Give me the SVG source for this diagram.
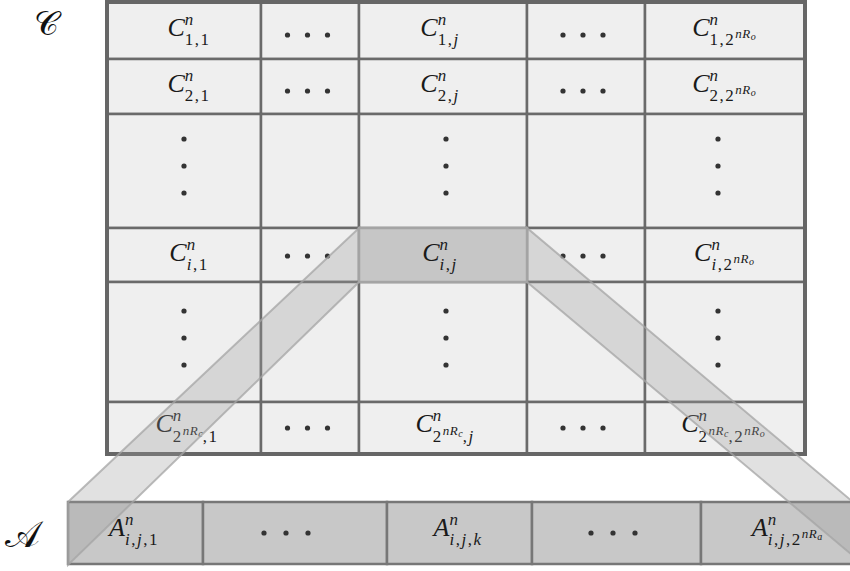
<svg xmlns="http://www.w3.org/2000/svg" width="850" height="571" viewBox="0 0 850 571">
<style>
.c { fill:#efefef; stroke:#6a6a6a; stroke-width:2.5; }
.hl { fill:#c6c6c6; stroke:#a4a4a4; stroke-width:2.5; }
.a { fill:#c8c8c8; stroke:#777; stroke-width:2.5; }
.frame { fill:none; stroke:#666; stroke-width:4; }
.dot { fill:#333; }
.t { font-family:"Liberation Serif","DejaVu Serif",serif; font-size:26px; fill:#1a1a1a; text-anchor:middle; }
.i { font-style:italic; }
.s { font-size:17px; letter-spacing:1.5px; }
.ss { font-size:13px; letter-spacing:0.5px; }
.sss { font-size:10px; }
.lbl { font-family:"DejaVu Serif","DejaVu Sans","Liberation Serif",serif; font-size:34px; fill:#111; }
.band { fill:#9a9a9a; fill-opacity:0.3; stroke:#a4a4a4; stroke-width:2; stroke-opacity:0.75; }
</style>
<defs>
<g id="hd" class="dot"><circle cx="-20" cy="0" r="2.6"/><circle cx="0" cy="0" r="2.6"/><circle cx="20" cy="0" r="2.6"/></g>
<g id="hd2" class="dot"><circle cx="-22" cy="0" r="2.6"/><circle cx="0" cy="0" r="2.6"/><circle cx="22" cy="0" r="2.6"/></g>
<g id="vd" class="dot"><circle cx="0" cy="-27" r="2.6"/><circle cx="0" cy="0" r="2.6"/><circle cx="0" cy="27" r="2.6"/></g>
</defs>
<rect width="850" height="571" fill="#fff"/>

<text class="lbl" x="34" y="35">𝒞</text>
<text class="lbl" x="5" y="547" style="font-size:37px">𝒜</text>

<g id="matrixC">
<!-- row 0 -->
<g id="c11"><rect class="c" x="107" y="2" width="154" height="57"/><text class="t" x="189" y="36"><tspan class="i">C</tspan><tspan class="s i" dy="-11">n</tspan><tspan class="s" dx="-10" dy="20">1,1</tspan></text></g>
<g id="c1d1"><rect class="c" x="261" y="2" width="98" height="57"/><use href="#hd" x="307.5" y="35"/></g>
<g id="c1j"><rect class="c" x="359" y="2" width="168" height="57"/><text class="t" x="440" y="36"><tspan class="i">C</tspan><tspan class="s i" dy="-11">n</tspan><tspan class="s" dx="-10" dy="20">1,</tspan><tspan class="s i">j</tspan></text></g>
<g id="c1d2"><rect class="c" x="527" y="2" width="118" height="57"/><use href="#hd" x="583" y="35"/></g>
<g id="c1N"><rect class="c" x="645" y="2" width="160" height="57"/><text class="t" x="724" y="36"><tspan class="i">C</tspan><tspan class="s i" dy="-11">n</tspan><tspan class="s" dx="-10" dy="20">1,2</tspan><tspan class="ss i" dy="-7">nR</tspan><tspan class="sss i" dy="2">o</tspan></text></g>
<!-- row 1 -->
<g id="c21"><rect class="c" x="107" y="59" width="154" height="55"/><text class="t" x="189" y="92"><tspan class="i">C</tspan><tspan class="s i" dy="-11">n</tspan><tspan class="s" dx="-10" dy="20">2,1</tspan></text></g>
<g id="c2d1"><rect class="c" x="261" y="59" width="98" height="55"/><use href="#hd" x="307.5" y="91"/></g>
<g id="c2j"><rect class="c" x="359" y="59" width="168" height="55"/><text class="t" x="440" y="92"><tspan class="i">C</tspan><tspan class="s i" dy="-11">n</tspan><tspan class="s" dx="-10" dy="20">2,</tspan><tspan class="s i">j</tspan></text></g>
<g id="c2d2"><rect class="c" x="527" y="59" width="118" height="55"/><use href="#hd" x="583" y="91"/></g>
<g id="c2N"><rect class="c" x="645" y="59" width="160" height="55"/><text class="t" x="724" y="92"><tspan class="i">C</tspan><tspan class="s i" dy="-11">n</tspan><tspan class="s" dx="-10" dy="20">2,2</tspan><tspan class="ss i" dy="-7">nR</tspan><tspan class="sss i" dy="2">o</tspan></text></g>
<!-- row 2 -->
<g id="cv1"><rect class="c" x="107" y="114" width="154" height="114"/><use href="#vd" x="184" y="166"/></g>
<g id="cv2"><rect class="c" x="261" y="114" width="98" height="114"/></g>
<g id="cv3"><rect class="c" x="359" y="114" width="168" height="114"/><use href="#vd" x="446" y="166"/></g>
<g id="cv4"><rect class="c" x="527" y="114" width="118" height="114"/></g>
<g id="cv5"><rect class="c" x="645" y="114" width="160" height="114"/><use href="#vd" x="718" y="166"/></g>
<!-- row 3 -->
<g id="ci1"><rect class="c" x="107" y="228" width="154" height="54"/><text class="t" x="189" y="261"><tspan class="i">C</tspan><tspan class="s i" dy="-11">n</tspan><tspan class="s i" dx="-10" dy="20">i</tspan><tspan class="s">,1</tspan></text></g>
<g id="cid1"><rect class="c" x="261" y="228" width="98" height="54"/><use href="#hd" x="307.5" y="256"/></g>
<g id="cid2"><rect class="c" x="527" y="228" width="118" height="54"/><use href="#hd" x="583" y="256"/></g>
<g id="ciN"><rect class="c" x="645" y="228" width="160" height="54"/><text class="t" x="724" y="261"><tspan class="i">C</tspan><tspan class="s i" dy="-11">n</tspan><tspan class="s i" dx="-10" dy="20">i</tspan><tspan class="s">,2</tspan><tspan class="ss i" dy="-7">nR</tspan><tspan class="sss i" dy="2">o</tspan></text></g>
<!-- row 4 -->
<g id="cw1"><rect class="c" x="107" y="282" width="154" height="120"/><use href="#vd" x="184" y="338"/></g>
<g id="cw2"><rect class="c" x="261" y="282" width="98" height="120"/></g>
<g id="cw3"><rect class="c" x="359" y="282" width="168" height="120"/><use href="#vd" x="446" y="338"/></g>
<g id="cw4"><rect class="c" x="527" y="282" width="118" height="120"/></g>
<g id="cw5"><rect class="c" x="645" y="282" width="160" height="120"/><use href="#vd" x="718" y="338"/></g>
<!-- row 5 -->
<g id="cM1"><rect class="c" x="107" y="402" width="154" height="52"/><text class="t" x="187" y="432"><tspan class="i">C</tspan><tspan class="s i" dy="-11">n</tspan><tspan class="s" dx="-10" dy="21">2</tspan><tspan class="ss i" dy="-7">nR</tspan><tspan class="sss i" dy="2">c</tspan><tspan class="s" dy="5">,1</tspan></text></g>
<g id="cMd1"><rect class="c" x="261" y="402" width="98" height="52"/><use href="#hd" x="307.5" y="428"/></g>
<g id="cMj"><rect class="c" x="359" y="402" width="168" height="52"/><text class="t" x="445" y="432"><tspan class="i">C</tspan><tspan class="s i" dy="-11">n</tspan><tspan class="s" dx="-10" dy="21">2</tspan><tspan class="ss i" dy="-7">nR</tspan><tspan class="sss i" dy="2">c</tspan><tspan class="s" dy="5">,</tspan><tspan class="s i">j</tspan></text></g>
<g id="cMd2"><rect class="c" x="527" y="402" width="118" height="52"/><use href="#hd" x="583" y="428"/></g>
<g id="cMN"><rect class="c" x="645" y="402" width="160" height="52"/><text class="t" x="723" y="432"><tspan class="i">C</tspan><tspan class="s i" dy="-11">n</tspan><tspan class="s" dx="-10" dy="21">2</tspan><tspan class="ss i" dy="-7">nR</tspan><tspan class="sss i" dy="2">c</tspan><tspan class="s" dy="5">,2</tspan><tspan class="ss i" dy="-7">nR</tspan><tspan class="sss i" dy="2">o</tspan></text></g>
<!-- highlighted cell -->
<g id="cij"><rect class="hl" x="359" y="228" width="168" height="54"/><text class="t" x="440" y="261"><tspan class="i">C</tspan><tspan class="s i" dy="-11">n</tspan><tspan class="s i" dx="-10" dy="20">i</tspan><tspan class="s">,</tspan><tspan class="s i">j</tspan></text></g>
<rect class="frame" x="107" y="2" width="698" height="452"/>
</g>

<g id="arrayA">
<g id="a1"><rect class="a" x="68" y="502" width="135" height="62"/><text class="t" x="134" y="536"><tspan class="i">A</tspan><tspan class="s i" dy="-11">n</tspan><tspan class="s i" dx="-10" dy="20">i</tspan><tspan class="s">,</tspan><tspan class="s i">j</tspan><tspan class="s">,1</tspan></text></g>
<g id="ad1"><rect class="a" x="203" y="502" width="184" height="62"/><use href="#hd2" x="286" y="533"/></g>
<g id="ak"><rect class="a" x="387" y="502" width="145" height="62"/><text class="t" x="458" y="536"><tspan class="i">A</tspan><tspan class="s i" dy="-11">n</tspan><tspan class="s i" dx="-10" dy="20">i</tspan><tspan class="s">,</tspan><tspan class="s i">j</tspan><tspan class="s">,</tspan><tspan class="s i">k</tspan></text></g>
<g id="ad2"><rect class="a" x="532" y="502" width="169" height="62"/><use href="#hd2" x="613" y="533"/></g>
<g id="aN"><rect class="a" x="701" y="502" width="170" height="62"/><text class="t" x="787" y="536"><tspan class="i">A</tspan><tspan class="s i" dy="-11">n</tspan><tspan class="s i" dx="-10" dy="20">i</tspan><tspan class="s">,</tspan><tspan class="s i">j</tspan><tspan class="s">,2</tspan><tspan class="ss i" dy="-7">nR</tspan><tspan class="sss i" dy="2">a</tspan></text></g>
</g>

<g id="connectors">
<polygon class="band" points="359,228 359,282 68,565 68,502"/>
<polygon class="band" points="527,228 527,282 864,565 853,502"/>
</g>
</svg>
